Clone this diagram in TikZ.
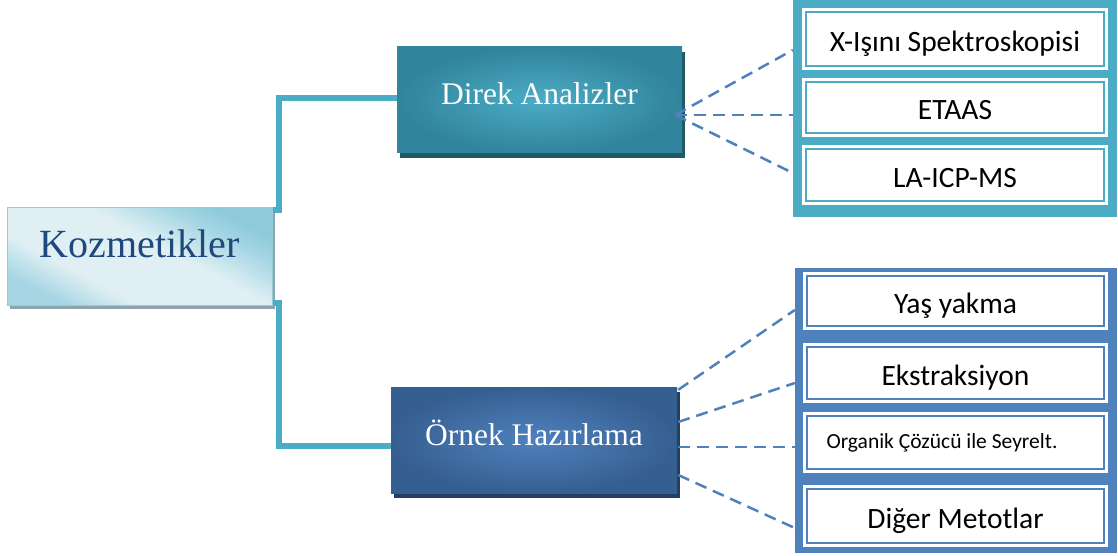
\documentclass[tikz,border=0pt]{standalone}
\usepackage{fontspec}
\setmainfont{Liberation Serif}
\newfontfamily\calib{Carlito}
\usetikzlibrary{calc,shadows}

\definecolor{aqua}{HTML}{4BACC6}
\definecolor{aquadark}{HTML}{31849B}
\definecolor{aquashadow}{HTML}{215968}
\definecolor{steel}{HTML}{4F81BD}
\definecolor{steeldark}{HTML}{365F91}
\definecolor{steelshadow}{HTML}{243F60}
\definecolor{navytext}{HTML}{1F497D}
\definecolor{paleA}{HTML}{8FCADB}
\definecolor{paleB}{HTML}{DFEFF4}
\definecolor{paleC}{HTML}{A6D6E3}
\definecolor{paleedge}{HTML}{93CDDD}
\definecolor{paleshadow}{HTML}{8DA4AE}

% pale diagonal sheen for the root box
\pgfdeclareverticalshading{rootsheen}{100bp}{
  color(0bp)=(paleC); color(25bp)=(paleC); color(36bp)=(paleB);
  color(56bp)=(paleB); color(68bp)=(paleC); color(75bp)=(paleA); color(100bp)=(paleA)}

\tikzset{
  rootbox/.style={rectangle, inner sep=0pt, minimum width=265pt, minimum height=98pt,
    draw=paleedge, line width=1pt,
    shading=rootsheen, shading angle=-28,
    drop shadow={shadow xshift=3pt, shadow yshift=-4pt, fill=paleshadow, opacity=1},
    font=\fontsize{40}{44}\selectfont, text=navytext, text height=27pt, text depth=25pt},
  branchbox/.style={rectangle, inner sep=0pt, minimum width=285pt, minimum height=106pt,
    font=\fontsize{31.5}{34}\selectfont, text=white, text height=22pt, text depth=12pt},
  directbox/.style={branchbox, shading=radial, inner color=aqua, outer color=aquadark,
    drop shadow={shadow xshift=2.5pt, shadow yshift=-5pt, fill=aquashadow, opacity=1}},
  prepbox/.style={branchbox, minimum width=286pt, shading=radial, inner color=steel, outer color=steeldark,
    drop shadow={shadow xshift=3pt, shadow yshift=-5pt, fill=steelshadow, opacity=1}},
  framebox/.style={rectangle, inner sep=0pt, draw=none},
  leafbox/.style={rectangle, inner sep=0pt, fill=white, draw=#1, line width=2pt,
    preaction={draw=white, line width=8pt},
    minimum width=298pt, font=\calib\fontsize{29.5}{32}\selectfont,
    text height=31pt, text depth=6pt},
  trunk/.style={draw=aqua, line width=6pt, line join=miter},
  twig/.style={draw=steel, line width=2.5pt, dash pattern=on 12pt off 7pt}
}

\begin{document}
\begin{tikzpicture}[x=1pt, y=-1pt]
\useasboundingbox (0,0) rectangle (1118,556);

% root and the two branches
\node[rootbox] (koz) at (139.5,256) {Kozmetikler};
\node[directbox] (direk) at (539.5,100) {Direk Analizler};
\node[prepbox] (ornek) at (534,440) {Örnek Hazırlama};

% frames holding the leaves
\node[framebox, fill=aqua, minimum width=324pt, minimum height=217pt] (fa) at (955,108.5) {};
\node[framebox, fill=steel, minimum width=322pt, minimum height=285pt] (fb) at (956,410.5) {};

% direct analysis methods
\node[leafbox=aqua, minimum height=54pt] (x1) at (955,39) {X-Işını Spektroskopisi};
\node[leafbox=aqua, minimum height=51pt] (x2) at (955,107.5) {ETAAS};
\node[leafbox=aqua, minimum height=52pt] (x3) at (955,175) {LA-ICP-MS};

% sample preparation methods
\node[leafbox=steel, minimum width=297pt, minimum height=50pt] (d1) at (955.5,301) {Yaş yakma};
\node[leafbox=steel, minimum width=297pt, minimum height=52pt] (d2) at (955.5,373) {Ekstraksiyon};
\node[leafbox=steel, minimum width=297pt, minimum height=53pt,
      font=\calib\fontsize{21.5}{24}\selectfont, text height=15pt, text depth=4pt]
      (d3) at (955.5,442.5) {\kern-27pt Organik Çözücü ile Seyrelt.};
\node[leafbox=steel, minimum width=297pt, minimum height=54pt] (d4) at (955.5,516) {Diğer Metotlar};

% elbow connectors from the root
\draw[trunk] ($(koz.north east)+(0,3)$) -- ++(6,0) |- ($(direk.west)+(0,-2)$);
\draw[trunk] ($(koz.south east)+(0,-3)$) -- ++(6,0) |- ($(ornek.west)+(0,6)$);

% dashed links to the leaves
\coordinate (dk) at ($(direk.east)+(-7,15)$);
\draw[twig] (dk) -- ($(x1.west -| fa.west)+(0,11)$);
\draw[twig] (dk) -- ($(x2.west -| fa.west)+(0,7.5)$);
\draw[twig] (dk) -- ($(x3.west -| fa.west)+(0,-2)$);

\draw[twig] ($(ornek.north east)+(1,3)$) -- ($(d1.west -| fb.west)+(0,9)$);
\draw[twig] ($(ornek.east)+(1,-18)$) -- ($(d2.west -| fb.west)+(0,10)$);
\draw[twig] ($(ornek.east)+(1,7)$) -- ($(d3.west -| fb.west)+(0,4.5)$);
\draw[twig] ($(ornek.east)+(1,35)$) -- ($(d4.west -| fb.west)+(0,12)$);
\end{tikzpicture}
\end{document}
